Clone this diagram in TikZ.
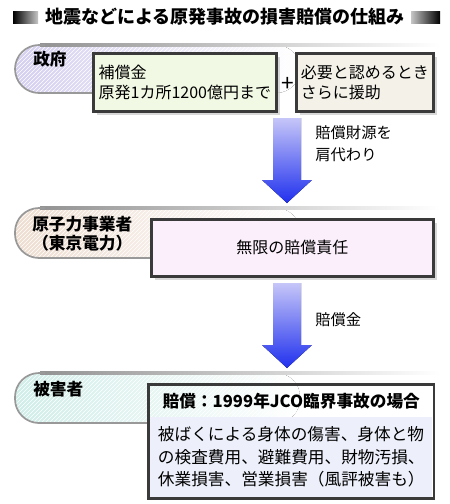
\documentclass[tikz,border=0pt]{standalone}
\usepackage{fontspec}
\setmainfont{Noto Sans CJK JP}
\usetikzlibrary{arrows.meta,positioning,calc,fit,backgrounds,shadows,patterns}
\definecolor{frame}{HTML}{3A3A3A}
\definecolor{govband}{HTML}{D4CEF0}
\definecolor{tepband}{HTML}{EEDDD0}
\definecolor{vicband}{HTML}{CFEDE8}
\definecolor{hojo}{HTML}{F1F9E4}
\definecolor{enjo}{HTML}{F3F1E8}
\definecolor{mugen}{HTML}{FAEFFA}
\definecolor{jco}{HTML}{EDF0FA}
\definecolor{arrtop}{HTML}{C6C6F8}
\definecolor{arrbot}{HTML}{2030EE}
\tikzset{
  box/.style={draw=frame,line width=2pt,inner xsep=0pt,inner ysep=0pt,
    drop shadow={opacity=0.3,shadow xshift=2.5pt,shadow yshift=-2.5pt}},
  boxtext/.style={font=\fontsize{12}{15}\selectfont,align=left},
  bandlabel/.style={font=\fontsize{12.5}{14.5}\selectfont\bfseries,align=center,inner sep=0pt},
  arrlabel/.style={font=\fontsize{11.5}{16.5}\selectfont,align=left,inner sep=0pt},
  flow/.style={top color=arrtop,bottom color=arrbot}
}
% one row band: top y, bottom y, colour, end of lower edge
\newcommand{\bandrow}[4]{%
  \fill[left color=#3,right color=white,rounded corners=18] (300,#1) -- (15,#1) -- (15,#2) -- (300,#2) -- cycle;
  \fill[pattern=north east lines,pattern color=white,rounded corners=18] (300,#1) -- (15,#1) -- (15,#2) -- (300,#2) -- cycle;
  \fill[left color=gray!85,right color=white] (40,#1-1.3) rectangle (440,#1+1.3);
  \draw[gray!80,line width=1.3pt,rounded corners=18] (45,#1) -- (15,#1) -- (15,#2) -- (#4,#2);
}
% big block arrow from #1 down to tip #2
\newcommand{\blockarrow}[2]{%
  \fill[flow] ($(#1)+(-14,0)$) -- ($(#1)+(14,0)$) -- ($(#2)+(14,-23)$) -- ($(#2)+(25,-23)$)
    -- (#2) -- ($(#2)+(-25,-23)$) -- ($(#2)+(-14,-23)$) -- cycle;
}
\begin{document}
\begin{tikzpicture}[x=0.75pt,y=-0.75pt]
\useasboundingbox (0,0) rectangle (450,504);
\fill[white] (0,0) rectangle (450,504);

% title
\node[font=\fontsize{13.5}{13.5}\selectfont\bfseries] (title) at (225,17) {地震などによる原発事故の損害賠償の仕組み};
\fill[left color=black,right color=gray!45] (13,11) rectangle (38,23);
\fill[left color=gray!45,right color=black] (411,11) rectangle (440,23);

% bands
\bandrow{45}{93}{govband}{92}
\bandrow{208}{258}{tepband}{150}
\bandrow{373}{423}{vicband}{150}

\node[bandlabel,anchor=west] (gov) at (33,59) {政府};
\node[bandlabel,anchor=west] (tepco) at (32,234) {原子力事業者\\（東京電力）};
\node[bandlabel,anchor=west] (victim) at (33,389) {被害者};

% government row
\node[box,boxtext,fill=hojo,anchor=north west,minimum width=137.25pt,minimum height=43.5pt] (hojo) at (92,52) {補償金\\原発1カ所1200億円まで};
\node[box,boxtext,fill=enjo,anchor=north west,minimum width=102.75pt,minimum height=43.5pt] (enjo) at (295,52) {必要と認めるとき\\さらに援助};
\node[font=\fontsize{17}{17}\selectfont,inner sep=0pt] (plus) at ($(hojo.east)!0.5!(enjo.west)+(1,2)$) {+};

\coordinate (a1s) at (287,118);
\coordinate (a1e) at (287,203);
\blockarrow{a1s}{a1e}
\node[arrlabel,anchor=west] (zaigen) at (315,144) {賠償財源を\\肩代わり};

% operator row
\node[box,boxtext,fill=mugen,anchor=north west,minimum width=211.5pt,minimum height=42.75pt] (mugen) at (150,218) {無限の賠償責任};

\coordinate (a2s) at (287,283);
\coordinate (a2e) at (287,368);
\blockarrow{a2s}{a2e}
\node[arrlabel,anchor=west] (kin) at (315,320) {賠償金};

% victims row
\node[anchor=north west,inner sep=0pt,minimum width=211.5pt,minimum height=22.5pt,
  font=\fontsize{12.5}{14}\selectfont\bfseries] (hdr) at (150,386) {賠償：1999年JCO臨界事故の場合};
\node[below=0pt of hdr,inner sep=0pt,fill=jco,minimum width=211.5pt,minimum height=60pt,
  font=\fontsize{12.5}{16.9}\selectfont,align=left] (body)
  {被ばくによる身体の傷害、身体と物\\の検査費用、避難費用、財物汚損、\\休業損害、営業損害（風評被害も）};
\begin{scope}[on background layer]
\node[box,fill=white,fit=(hdr)(body),inner sep=0pt] (jcobox) {};
\end{scope}
\draw[frame,line width=2pt] (jcobox.north west) rectangle (jcobox.south east);
\end{tikzpicture}
\end{document}
